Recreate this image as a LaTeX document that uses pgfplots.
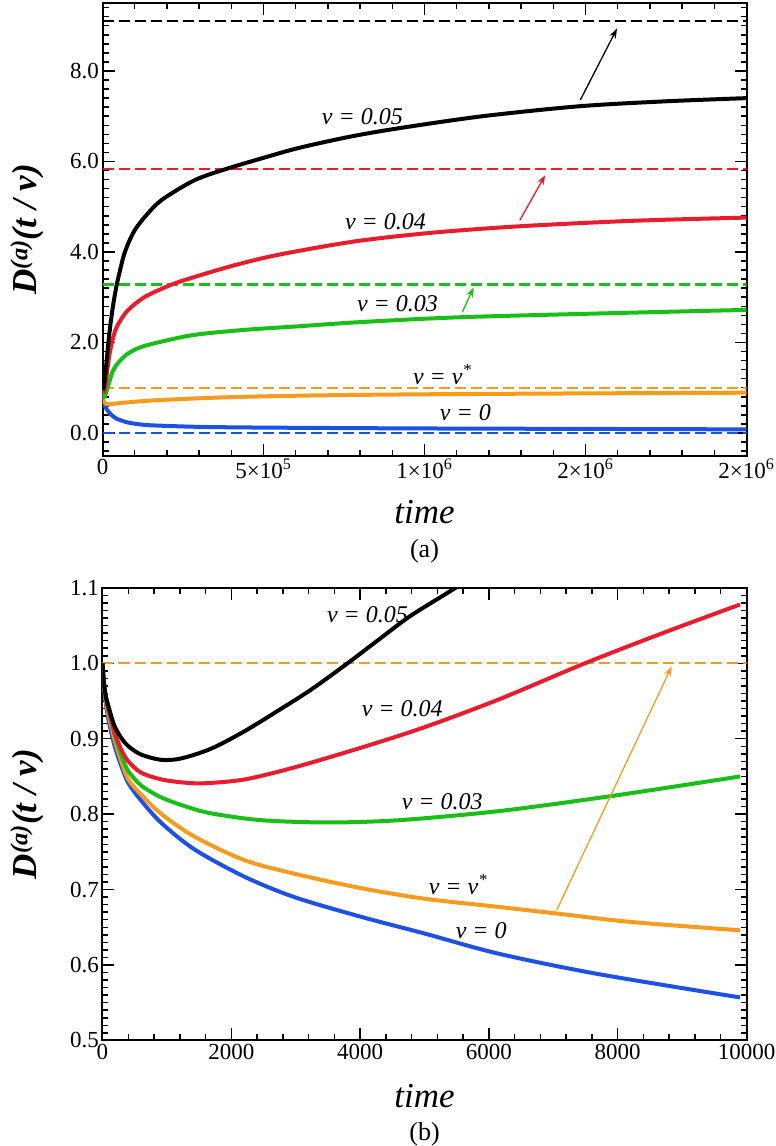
\documentclass[border=0pt]{standalone}
\usepackage{fontspec}
\setmainfont{Liberation Serif}
\usepackage{pgfplots}
\pgfplotsset{compat=1.18}
\usetikzlibrary{arrows.meta}

\definecolor{cred}{RGB}{232,28,44}
\definecolor{cgreen}{RGB}{25,190,25}
\definecolor{corange}{RGB}{246,155,30}
\definecolor{cblue}{RGB}{30,80,230}

\tikzset{
  curve/.style={line width=4pt},
  hline/.style={line width=2.2pt, dash pattern=on 11pt off 5pt},
  lab/.style={font=\fontsize{24}{27}\selectfont\itshape, anchor=center},
  arr/.style={line width=1.3pt, -{Stealth[length=10pt,width=7pt]}},
}

\pgfplotsset{
  common/.style={
    scale only axis,
    width=644pt,
    height=452.5pt,
    anchor=south west,
    axis line style={line width=2pt},
    every tick/.style={line width=1.5pt,black},
    major tick length=12pt,
    minor tick length=6pt,
    tick align=inside,
    tick label style={font=\fontsize{23}{27}\selectfont},
    /pgf/number format/assume math mode=true,
    /pgf/number format/1000 sep={},
    scaled x ticks=false,
    scaled y ticks=false,
    xlabel={time},
    xlabel style={font=\fontsize{35}{38}\selectfont\itshape, at={(axis description cs:0.5,0)}, anchor=center, yshift=-56pt},
    ylabel={D\textsuperscript{(a)}(t / v)},
    ylabel style={font=\fontsize{35}{38}\selectfont\bfseries\itshape, at={(axis description cs:-0.117,0.5)}, anchor=center},
  }
}

\begin{document}
\begin{tikzpicture}
\useasboundingbox (0pt,0pt) rectangle (776pt,-1146pt);

% ---------------- panel (a) ----------------
\begin{axis}[common,
  at={(102.5pt,-455.6pt)},
  xmin=0, xmax=2e6, ymin=-0.5, ymax=9.5,
  xtick={0,5e5,1e6,1.5e6,2e6},
  xticklabels={0, 5×10\textsuperscript{5}, 1×10\textsuperscript{6}, 2×10\textsuperscript{6}, 2×10\textsuperscript{6}},
  minor xtick={1e5,2e5,3e5,4e5,6e5,7e5,8e5,9e5,1.1e6,1.2e6,1.3e6,1.4e6,1.6e6,1.7e6,1.8e6,1.9e6},
  ytick={0,2,4,6,8},
  yticklabel style={/pgf/number format/.cd, fixed, fixed zerofill, precision=1},
  minor ytick={-0.4,-0.2,0.2,0.4,0.6,0.8,1.0,1.2,1.4,1.6,1.8,2.2,2.4,2.6,2.8,3.0,3.2,3.4,3.6,3.8,4.2,4.4,4.6,4.8,5.0,5.2,5.4,5.6,5.8,6.2,6.4,6.6,6.8,7.0,7.2,7.4,7.6,7.8,8.2,8.4,8.6,8.8,9.0,9.2,9.4},
]
\addplot[hline, black] coordinates {(0,9.1) (2e6,9.1)};
\addplot[hline, cred] coordinates {(0,5.83) (2e6,5.83)};
\addplot[hline, cgreen] coordinates {(0,3.28) (2e6,3.28)};
\addplot[hline, corange] coordinates {(0,1.0) (2e6,1.0)};
\addplot[hline, cblue] coordinates {(0,0.0) (2e6,0.0)};

\addplot[curve, cblue, smooth] coordinates {
(0,0.95) (2e3,0.72) (5e3,0.642) (1e4,0.557) (2e4,0.46) (4e4,0.33) (8e4,0.23) (1.3e5,0.18) (1.84e5,0.16) (3e5,0.135) (4.5e5,0.122) (6.6e5,0.112) (1e6,0.10) (1.5e6,0.09) (2e6,0.08)};
\addplot[curve, corange, smooth] coordinates {
(0,0.95) (2e3,0.74) (5e3,0.69) (1e4,0.646) (2e4,0.63) (4e4,0.65) (1e5,0.69) (1.84e5,0.73) (3.9e5,0.79) (6.6e5,0.83) (1e6,0.855) (1.5e6,0.875) (2e6,0.89)};
\addplot[curve, cgreen, smooth] coordinates {
(0,0.95) (5e3,0.80) (1e4,0.86) (2e4,1.1) (3e4,1.33) (4e4,1.47) (5.5e4,1.6) (8e4,1.76) (1.2e5,1.9) (1.84e5,2.02) (2.87e5,2.17) (4.43e5,2.28) (6.14e5,2.36) (8e5,2.45) (1.12e6,2.56) (1.65e6,2.66) (2e6,2.72)};
\addplot[curve, cred, smooth] coordinates {
(0,0.95) (5e3,0.92) (1e4,1.08) (1.5e4,1.4) (2.2e4,1.75) (3e4,2.02) (4e4,2.27) (5.5e4,2.48) (8e4,2.72) (1.32e5,3.01) (2.15e5,3.28) (2.87e5,3.45) (3.91e5,3.67) (4.95e5,3.86) (6.14e5,4.03) (8e5,4.25) (1.03e6,4.43) (1.3e6,4.57) (1.65e6,4.69) (2e6,4.76)};
\addplot[curve, black, smooth] coordinates {
(0,0.95) (4e3,1.02) (8e3,1.25) (1.3e4,1.6) (1.8e4,1.98) (2.5e4,2.42) (3.4e4,2.87) (4.4e4,3.27) (5.4e4,3.58) (6.6e4,3.92) (8e4,4.19) (1e5,4.48) (1.32e5,4.78) (1.84e5,5.15) (2.87e5,5.59) (3.91e5,5.85) (4.95e5,6.07) (6.1e5,6.30) (7.7e5,6.55) (9.25e5,6.74) (1.18e6,7.0) (1.48e6,7.22) (1.75e6,7.33) (2e6,7.40)};

\draw[black, arr] (axis cs:1.484e6,7.36) -- (axis cs:1.598e6,8.94);
\draw[cred, arr] (axis cs:1.296e6,4.70) -- (axis cs:1.375e6,5.70);
\draw[cgreen, arr] (axis cs:1.118e6,2.68) -- (axis cs:1.153e6,3.22);

\node[lab] at (axis cs:8.07e5,6.98) {v = 0.05};
\node[lab] at (axis cs:8.79e5,4.68) {v = 0.04};
\node[lab] at (axis cs:9.16e5,2.85) {v = 0.03};
\node[lab] at (axis cs:1.055e6,1.30) {v = v\textsuperscript{*}};
\node[lab] at (axis cs:1.127e6,0.44) {v = 0};
\end{axis}
\node[font=\fontsize{26}{29}\selectfont] at (424.5pt,-551pt) {(a)};

% ---------------- panel (b) ----------------
\begin{axis}[common,
  at={(102.5pt,-1040.4pt)},
  xmin=0, xmax=10000, ymin=0.5, ymax=1.1,
  xtick={0,2000,4000,6000,8000,10000},
  minor xtick={400,800,1200,1600,2400,2800,3200,3600,4400,4800,5200,5600,6400,6800,7200,7600,8400,8800,9200,9600},
  ytick={0.5,0.6,0.7,0.8,0.9,1.0,1.1},
  yticklabel style={/pgf/number format/.cd, fixed, fixed zerofill, precision=1},
  minor y tick num=9,
]
\addplot[hline, corange] coordinates {(0,1.0) (10000,1.0)};

\addplot[curve, cblue, smooth] coordinates {
(0,1.0) (20,0.972) (50,0.948) (93,0.925) (150,0.903) (200,0.887) (300,0.862) (402,0.841) (600,0.818) (918,0.788) (1433,0.753) (2206,0.717) (2980,0.690) (4010,0.664) (4990,0.642) (6150,0.615) (7697,0.588) (9900,0.557)};
\addplot[curve, corange, smooth] coordinates {
(0,1.0) (20,0.975) (50,0.953) (93,0.932) (150,0.912) (200,0.895) (300,0.868) (402,0.846) (600,0.826) (918,0.800) (1433,0.770) (2206,0.739) (2980,0.721) (4010,0.702) (4990,0.688) (6150,0.677) (7078,0.668) (8212,0.657) (9900,0.646)};
\addplot[curve, cgreen, smooth] coordinates {
(0,1.0) (20,0.975) (50,0.955) (93,0.937) (150,0.918) (200,0.902) (300,0.876) (402,0.857) (600,0.838) (918,0.822) (1300,0.810) (1691,0.801) (2464,0.792) (3495,0.789) (4603,0.792) (6150,0.804) (7902,0.824) (9900,0.850)};
\addplot[curve, cred, smooth] coordinates {
(0,1.0) (20,0.975) (50,0.956) (93,0.939) (150,0.920) (200,0.905) (300,0.884) (402,0.870) (600,0.855) (918,0.846) (1250,0.842) (1588,0.841) (2206,0.846) (2980,0.862) (4010,0.888) (4990,0.915) (6150,0.952) (7490,1.0) (8727,1.041) (9900,1.078)};
\addplot[curve, black, smooth] coordinates {
(0,1.0) (20,0.976) (50,0.957) (93,0.943) (150,0.926) (196,0.915) (300,0.900) (402,0.890) (600,0.879) (918,0.872) (1227,0.874) (1691,0.887) (2206,0.910) (2722,0.937) (3237,0.965) (3804,1.0) (4268,1.030) (4784,1.063) (5480,1.10) (6000,1.13)};

\draw[corange, arr] (axis cs:7054,0.673) -- (axis cs:8839,0.996);

\node[lab] at (axis cs:4115,1.064) {v = 0.05};
\node[lab] at (axis cs:4655,0.94) {v = 0.04};
\node[lab] at (axis cs:5275,0.816) {v = 0.03};
\node[lab] at (axis cs:5520,0.707) {v = v\textsuperscript{*}};
\node[lab] at (axis cs:5880,0.646) {v = 0};
\end{axis}
\node[font=\fontsize{26}{29}\selectfont] at (424.5pt,-1134pt) {(b)};
\end{tikzpicture}
\end{document}
